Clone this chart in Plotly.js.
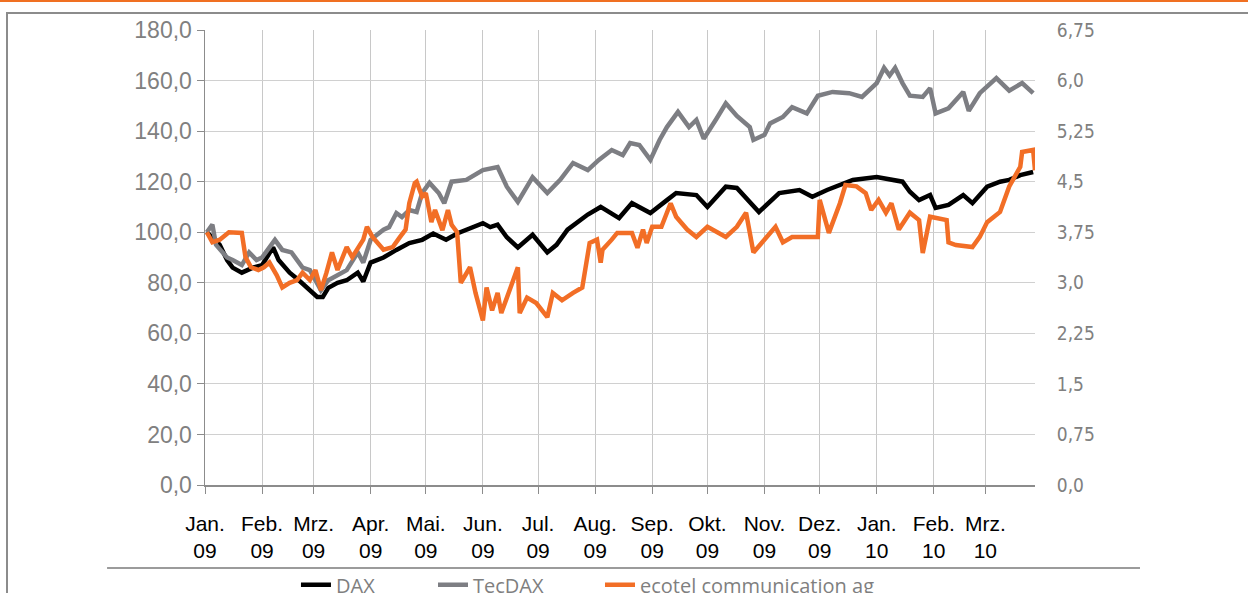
<!DOCTYPE html>
<html>
<head>
<meta charset="utf-8">
<script src="https://cdn.plot.ly/plotly-3.0.1.min.js"></script>
<style>
  html, body { margin:0; padding:0; background:#ffffff; overflow:hidden; }
  #topline { position:absolute; left:0; top:0; width:1248px; height:2px; background:#f07022; }
  #frame { position:absolute; left:6px; top:12px; width:1400px; height:700px;
           border-left:2px solid #8c8c8c; border-top:2px solid #8c8c8c; }
  #chart { position:absolute; left:0; top:0; width:1248px; height:593px; }
</style>
</head>
<body>
<div id="topline"></div>
<div id="frame"></div>
<div id="chart"></div>
<script>
// ---- DATA ----
const daxDates = ["2009-01-02","2009-01-05","2009-01-09","2009-01-13","2009-01-16","2009-01-21","2009-01-27","2009-02-01","2009-02-07","2009-02-10","2009-02-16","2009-02-21","2009-02-27","2009-03-03","2009-03-06","2009-03-09","2009-03-14","2009-03-19","2009-03-25","2009-03-28","2009-04-01","2009-04-08","2009-04-15","2009-04-22","2009-04-29","2009-05-05","2009-05-12","2009-05-18","2009-06-01","2009-06-05","2009-06-09","2009-06-14","2009-06-20","2009-06-28","2009-07-06","2009-07-11","2009-07-17","2009-07-28","2009-08-04","2009-08-14","2009-08-21","2009-08-31","2009-09-09","2009-09-14","2009-09-25","2009-10-01","2009-10-11","2009-10-17","2009-10-29","2009-11-09","2009-11-20","2009-11-27","2009-12-05","2009-12-12","2009-12-19","2010-01-01","2010-01-09","2010-01-15","2010-01-19","2010-01-24","2010-01-30","2010-02-02","2010-02-09","2010-02-17","2010-02-22","2010-03-02","2010-03-09","2010-03-14","2010-03-20","2010-03-27"];
const daxValues = [100,97.7,95,89,86,84,86,87,94,89,84,81,77,74.4,74.4,78,80,81,84,80.5,88,90,93,95.7,97,99.5,97,99.5,103.6,102,103,98,94,99,92,95,101,107,110,105.6,111.5,107.6,112.7,115.5,114.7,110,118,117.5,108,115.5,116.7,114,116.7,118.7,120.7,121.8,120.7,120,116,112.7,114.7,109.6,110.8,114.7,111.5,118,120,120.7,122.6,123.8];

const tecDates = ["2009-01-02","2009-01-05","2009-01-07","2009-01-13","2009-01-16","2009-01-21","2009-01-25","2009-01-29","2009-02-01","2009-02-08","2009-02-12","2009-02-17","2009-02-23","2009-02-27","2009-03-02","2009-03-05","2009-03-09","2009-03-14","2009-03-19","2009-03-25","2009-03-28","2009-04-01","2009-04-08","2009-04-11","2009-04-15","2009-04-18","2009-04-22","2009-04-26","2009-04-29","2009-05-03","2009-05-08","2009-05-11","2009-05-15","2009-05-23","2009-06-01","2009-06-09","2009-06-14","2009-06-20","2009-06-28","2009-07-06","2009-07-13","2009-07-20","2009-07-28","2009-08-03","2009-08-10","2009-08-16","2009-08-20","2009-08-25","2009-08-31","2009-09-05","2009-09-09","2009-09-15","2009-09-21","2009-09-25","2009-09-29","2009-10-06","2009-10-11","2009-10-17","2009-10-24","2009-10-26","2009-11-01","2009-11-04","2009-11-11","2009-11-16","2009-11-24","2009-11-30","2009-12-08","2009-12-17","2009-12-24","2010-01-01","2010-01-05","2010-01-08","2010-01-11","2010-01-15","2010-01-19","2010-01-26","2010-01-30","2010-02-02","2010-02-09","2010-02-17","2010-02-20","2010-02-26","2010-03-07","2010-03-14","2010-03-21","2010-03-27"];
const tecValues = [100,103,95,90,89,87,92,89,90,97,93,92,86,85,81,77,81,83,85,92,88,97,101,102,107.6,106,108.8,108,115.5,119.5,115.5,111.5,120,120.7,124.6,125.8,118,112,121.8,115.5,120.7,127.4,124.6,128.6,132.5,130.5,135.3,134.5,128.6,136.5,141.6,147.6,141.6,144.4,137,145,151,146,141.6,136.5,138.5,143,145.6,149.5,147,154,155.5,155,153.5,159,165,162,165,159,154,153.5,157,147,149,155.5,148,155,161,156,159,155];

const ecoDates = ["2009-01-02","2009-01-05","2009-01-09","2009-01-13","2009-01-14","2009-01-21","2009-01-23","2009-01-26","2009-01-30","2009-02-02","2009-02-05","2009-02-09","2009-02-12","2009-02-16","2009-02-20","2009-02-23","2009-02-27","2009-03-02","2009-03-05","2009-03-08","2009-03-11","2009-03-14","2009-03-19","2009-03-22","2009-03-28","2009-03-30","2009-04-02","2009-04-08","2009-04-13","2009-04-17","2009-04-20","2009-04-22","2009-04-25","2009-04-26","2009-04-29","2009-05-01","2009-05-04","2009-05-06","2009-05-10","2009-05-13","2009-05-15","2009-05-18","2009-05-20","2009-05-25","2009-05-28","2009-06-01","2009-06-03","2009-06-06","2009-06-09","2009-06-11","2009-06-15","2009-06-20","2009-06-21","2009-06-25","2009-06-30","2009-07-06","2009-07-09","2009-07-14","2009-07-20","2009-07-25","2009-07-29","2009-08-02","2009-08-04","2009-08-05","2009-08-10","2009-08-13","2009-08-21","2009-08-24","2009-08-27","2009-08-29","2009-09-01","2009-09-06","2009-09-11","2009-09-14","2009-09-20","2009-09-25","2009-10-01","2009-10-11","2009-10-17","2009-10-22","2009-10-26","2009-11-02","2009-11-07","2009-11-11","2009-11-16","2009-11-30","2009-12-01","2009-12-06","2009-12-12","2009-12-15","2009-12-21","2009-12-26","2009-12-29","2010-01-02","2010-01-06","2010-01-09","2010-01-13","2010-01-19","2010-01-24","2010-01-26","2010-01-30","2010-02-08","2010-02-09","2010-02-13","2010-02-22","2010-02-26","2010-03-02","2010-03-09","2010-03-14","2010-03-20","2010-03-21","2010-03-27","2010-03-28"];
const ecoValues = [3.75,3.60,3.64,3.74,3.75,3.74,3.38,3.23,3.19,3.23,3.30,3.11,2.93,3.00,3.04,3.15,3.04,3.19,2.89,3.15,3.45,3.19,3.53,3.38,3.64,3.83,3.68,3.49,3.53,3.68,3.79,4.18,4.48,4.50,4.28,4.33,3.90,4.08,3.78,4.08,3.86,3.75,3.00,3.23,2.85,2.44,2.93,2.59,2.85,2.55,2.85,3.23,2.55,2.78,2.70,2.49,2.85,2.74,2.85,2.93,3.59,3.64,3.30,3.49,3.64,3.74,3.74,3.52,3.79,3.59,3.83,3.83,4.18,3.98,3.79,3.68,3.83,3.68,3.83,4.04,3.45,3.68,3.83,3.60,3.68,3.68,4.23,3.74,4.18,4.45,4.43,4.33,4.08,4.23,4.04,4.18,3.79,4.04,3.93,3.44,3.98,3.93,3.60,3.56,3.53,3.68,3.90,4.05,4.43,4.72,4.94,4.97,4.67];

const monthTicks = ["2009-01-01","2009-02-01","2009-03-01","2009-04-01","2009-05-01","2009-06-01","2009-07-01","2009-08-01","2009-09-01","2009-10-01","2009-11-01","2009-12-01","2010-01-01","2010-02-01","2010-03-01"];
const monthLabels = ["Jan.<br>09","Feb.<br>09","Mrz.<br>09","Apr.<br>09","Mai.<br>09","Jun.<br>09","Jul.<br>09","Aug.<br>09","Sep.<br>09","Okt.<br>09","Nov.<br>09","Dez.<br>09","Jan.<br>10","Feb.<br>10","Mrz.<br>10"];
const leftTicks = [0,20,40,60,80,100,120,140,160,180];
const leftLabels = ["0,0","20,0","40,0","60,0","80,0","100,0","120,0","140,0","160,0","180,0"];
const rightTicks = [0,0.75,1.5,2.25,3.0,3.75,4.5,5.25,6.0,6.75];
const rightLabels = ["0,0","0,75","1,5","2,25","3,0","3,75","4,5","5,25","6,0","6,75"];
const seriesNames = ["DAX","TecDAX","ecotel communication ag"];

// ---- CHART ----
const traces = [
  {x: daxDates, y: daxValues, name: seriesNames[0], type:'scatter', mode:'lines',
   line:{color:'#000000', width:4.5}, yaxis:'y', legend:'legend'},
  {x: tecDates, y: tecValues, name: seriesNames[1], type:'scatter', mode:'lines',
   line:{color:'#7d7e83', width:4.5}, yaxis:'y', legend:'legend2'},
  {x: ecoDates, y: ecoValues, name: seriesNames[2], type:'scatter', mode:'lines',
   line:{color:'#f26e26', width:4.5}, yaxis:'y2', legend:'legend3'}
];

const legendBase = {orientation:'h', xanchor:'left', y:-0.1764, yanchor:'top',
  font:{family:'Open Sans, sans-serif', size:20, color:'#7f7f7f'},
  bgcolor:'rgba(0,0,0,0)'};

const layout = {
  width:1248, height:593,
  margin:{l:205, r:213, t:30, b:108, pad:0, autoexpand:false},
  paper_bgcolor:'rgba(0,0,0,0)', plot_bgcolor:'rgba(0,0,0,0)',
  showlegend:true,
  legend: Object.assign({}, legendBase, {x:0.1096}),
  legend2: Object.assign({}, legendBase, {x:0.2747}),
  legend3: Object.assign({}, legendBase, {x:0.4759}),
  xaxis:{type:'date', range:['2009-01-01','2010-03-28'], tickmode:'array',
         tickvals:monthTicks, ticktext:monthLabels, tickangle:0,
         showgrid:true, gridcolor:'#c8c8c8', gridwidth:1,
         showline:true, linecolor:'#8c8c8c', linewidth:1.5,
         ticks:'outside', ticklen:7, tickcolor:'#8c8c8c', ticklabelstandoff:12,
         tickfont:{family:'Liberation Sans, Arial, sans-serif', size:21, color:'#000000'},
         zeroline:false, fixedrange:true},
  yaxis:{range:[0,180], tickmode:'array', tickvals:leftTicks, ticktext:leftLabels,
         showgrid:true, gridcolor:'#d0d0d0', gridwidth:1,
         showline:true, linecolor:'#8c8c8c', linewidth:1.5,
         ticks:'outside', ticklen:7, tickcolor:'#8c8c8c',
         tickfont:{family:'Liberation Sans, Arial, sans-serif', size:23, color:'#808080'},
         zeroline:false, fixedrange:true},
  yaxis2:{overlaying:'y', side:'right', range:[0,6.75], tickmode:'array',
          tickvals:rightTicks, ticktext:rightLabels,
          showgrid:false, showline:false, zeroline:false,
          ticks:'outside', ticklen:17, tickcolor:'rgba(0,0,0,0)',
          tickfont:{family:'Liberation Sans Narrow, DejaVu Sans Condensed, sans-serif', size:19, color:'#808080'},
          fixedrange:true},
  shapes:[
    {type:'line', xref:'paper', yref:'paper', x0:-0.118, x1:1.1265, y0:-0.1824, y1:-0.1824,
     line:{color:'#7a7a7a', width:1.5}}
  ]
};

Plotly.newPlot('chart', traces, layout, {displayModeBar:false, staticPlot:true});
</script>
</body>
</html>
